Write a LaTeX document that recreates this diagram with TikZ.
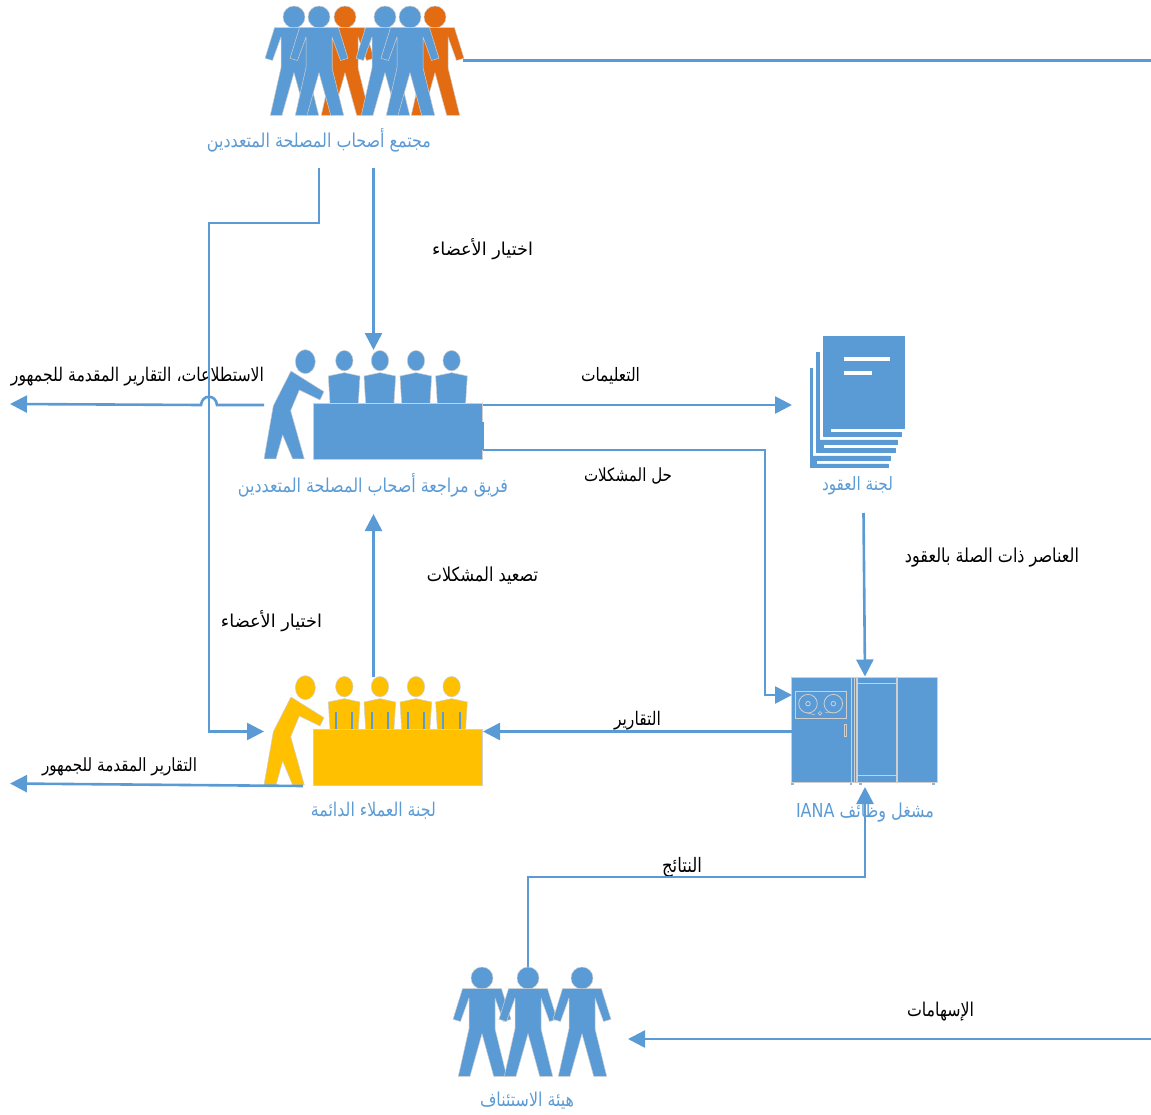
\documentclass[tikz,border=0pt]{standalone}
\usepackage{fontspec}
\usepackage{graphicx}
\usetikzlibrary{arrows.meta}
\TeXXeTstate=1
\newfontfamily\arabicfont[Script=Arabic]{DejaVu Sans}
\definecolor{iblue}{HTML}{5B9BD5}
\definecolor{iorange}{HTML}{E36C12}
\definecolor{iyellow}{HTML}{FFC000}
\definecolor{iedge}{HTML}{CFCFCF}
\newcommand{\ar}[3][1.2]{\scalebox{1}[#1]{\resizebox{#2pt}{!}{\arabicfont #3}}}
\tikzset{
  iconshape/.style={draw=iedge,line width=.5pt,line join=round},
  pageshape/.style={draw=iblue,line width=.4pt,fill=iblue,line join=round},
  iconline/.style={draw=iedge,line width=.8pt},
  iconbox/.style={inner sep=0pt,outer sep=0pt},
  lab/.style={inner sep=0pt,outer sep=0pt,text=iblue},
  note/.style={inner sep=0pt,outer sep=0pt,text=black},
  conn/.style={draw=iblue,line width=2.6pt},
  arrowed/.style={conn,-{Triangle[length=17pt,width=17pt]}}
}
\newcommand{\drawperson}[3]{%
  \begin{scope}[xshift=#1pt,yshift=-#2pt]
    \path[iconshape,fill=#3] (0,0) circle (11pt);
    \path[iconshape,fill=#3] (-19.5,10.7)--(-29,41.3)--(-21.5,43.5)--(-13,20)--(-13,50.7)--(-23.7,98.3)--(-12,98.3)--(0,55.7)--(11.7,98.3)--(24.7,98.3)--(13,50.7)--(13,20)--(21.5,43.5)--(29,41.3)--(19.5,10.7)--cycle;
  \end{scope}}
\newcommand{\drawpanel}[4]{% y shift, colour, seat edge colour, stripe flag
  \begin{scope}[xshift=190pt,yshift=-#1pt,x=.3333pt,y=-.3333pt]
    \path[iconshape,fill=#2] (346,65) ellipse [x radius=10pt,y radius=12pt];
    \path[iconshape,fill=#2] (222,357)--(258,357)--(278,285)--(308,357)--(343,357)--(302,212)--(328,150)--(390,180)--(402,155)--(303,93)--(250,197)--cycle;
    \foreach \sx in {463,570,678,785}{
      \path[iconshape,fill=#2] (\sx,62) ellipse [x radius=8.7pt,y radius=10.2pt];
      \path[iconshape,fill=#2] (\sx-48,108)--(\sx,98)--(\sx+47,108)--(\sx+42,190)--(\sx-43,190)--cycle;
      \ifnum#4=1
        \draw[draw=iblue,line width=2pt] (\sx-25,137)--(\sx-25,190) (\sx+24,137)--(\sx+24,190);
      \fi
    }
    \path[iconshape,fill=#2] (370,190) rectangle (878,357);
    \ifnum#4=0
      \fill[#2] (876,245) rectangle (882,330);
    \fi
  \end{scope}}
\begin{document}
\begin{tikzpicture}[x=1pt,y=-1pt]
\useasboundingbox (0,0) rectangle (1151,1115);
% --- icon boxes for connectors
\node[iconbox,minimum width=199pt,minimum height=109pt] (community) at (363.5,60.5) {};
\node[iconbox,minimum width=219pt,minimum height=110pt] (review) at (373.5,405) {};
\node[iconbox,minimum width=219pt,minimum height=109pt] (customers) at (373.5,731.5) {};
\node[iconbox,minimum width=113pt,minimum height=130pt] (contracts) at (848.5,405) {};
\node[iconbox,minimum width=146pt,minimum height=110pt] (iana) at (865,731.5) {};
\node[iconbox,minimum width=152pt,minimum height=110pt] (appeal) at (532,1022) {};
% --- community
\drawperson{345}{17}{iorange}
\drawperson{435}{17}{iorange}
\drawperson{294}{17}{iblue}
\drawperson{319}{17}{iblue}
\drawperson{385}{17}{iblue}
\drawperson{410}{17}{iblue}
% --- panels
\drawpanel{340}{iblue}{iedge}{0}
\drawpanel{666}{iyellow}{iedge}{1}
% --- contracts documents
\begin{scope}[xshift=770pt,yshift=-320pt,x=.3333pt,y=-.3333pt]
  \path[pageshape] (120,145)--(128,145)--(128,408)--(362,408)--(362,420)--(140,420)--(140,432)--(355,432)--(355,442)--(120,442)--cycle;
  \path[pageshape] (140,97)--(148,97)--(148,360)--(383,360)--(383,372)--(160,372)--(160,385)--(375,385)--(375,396)--(140,396)--cycle;
  \path[pageshape] (160,50)--(403,50)--(403,325)--(180,325)--(180,338)--(395,338)--(395,348)--(160,348)--cycle;
  \fill[white] (222,112) rectangle (360,123);
  \fill[white] (222,154) rectangle (307,165);
\end{scope}
% --- IANA operator machine
\begin{scope}[xshift=770pt,yshift=-660pt,x=.3333pt,y=-.3333pt]
  \path[iconshape,fill=iblue] (65,52) rectangle (502,366);
  \draw[iconline] (245,52)--(245,366) (252,52)--(252,366);
  \draw[draw=iedge,line width=1.2pt] (261,52)--(261,366) (381,52)--(381,366) (261,71)--(381,71) (261,346)--(381,346);
  \draw[iconline] (75,95) rectangle (230,175);
  \draw[iconline] (114,131) circle (9.3pt) (114,131) circle (2.3pt) (190,131) circle (9.3pt) (190,131) circle (2.3pt);
  \draw[iconline,line width=.6pt] (110,158)--(135,165) (150,160) circle (1.8pt) (165,158)--(190,158);
  \draw[iconline] (222,192) rectangle (230,230);
  \foreach \fx in {68,243,271,490}{\fill[iedge!50!iblue] (\fx-4,368) rectangle (\fx+4,376);}
\end{scope}
% --- appeal
\drawperson{482}{978}{iblue}
\drawperson{528}{978}{iblue}
\drawperson{582}{978}{iblue}
% --- labels
\node[lab] (communityLabel) at (319,140) {\ar{224}{\beginR مجتمع أصحاب المصلحة المتعددين\endR}};
\node[lab] (reviewLabel) at (373,485) {\ar{270}{\beginR فريق مراجعة أصحاب المصلحة المتعددين\endR}};
\node[lab] (contractsLabel) at (857.5,486) {\ar{71}{\beginR لجنة العقود\endR}};
\node[lab] (customersLabel) at (373.5,811) {\ar{125}{\beginR لجنة العملاء الدائمة\endR}};
\node[lab] (ianaLabel) at (865,813) {\ar{138}{\beginR مشغل وظائف \beginL IANA\endL\endR}};
\node[lab] (appealLabel) at (527,1101) {\ar{94}{\beginR هيئة الاستئناف\endR}};
\node[note] (noteSelectA) at (482.5,249) {\ar[1]{101}{\beginR اختيار الأعضاء\endR}};
\node[note] (notePolls) at (137.5,377) {\ar{253}{\beginR الاستطلاعات، التقارير المقدمة للجمهور\endR}};
\node[note] (noteInstr) at (610.5,376) {\ar{59}{\beginR التعليمات\endR}};
\node[note] (noteSolve) at (628,476) {\ar{88}{\beginR حل المشكلات\endR}};
\node[note] (noteElems) at (992,558) {\ar{174}{\beginR العناصر ذات الصلة بالعقود\endR}};
\node[note] (noteEsc) at (482.5,576) {\ar{111}{\beginR تصعيد المشكلات\endR}};
\node[note] (noteSelectB) at (271.5,621) {\ar[1]{101}{\beginR اختيار الأعضاء\endR}};
\node[note] (noteReports) at (637.5,721) {\ar{47}{\beginR التقارير\endR}};
\node[note] (notePublic) at (119.5,767) {\ar{155}{\beginR التقارير المقدمة للجمهور\endR}};
\node[note] (noteResults) at (682,867) {\ar{40}{\beginR النتائج\endR}};
\node[note] (noteContrib) at (940.5,1012) {\ar{67}{\beginR الإسهامات\endR}};
% --- connector ends
\coordinate (topEnd) at (1151,60.5);
\coordinate (memberOut) at (319,168);
\coordinate (memberTurn) at (209,223);
\coordinate (memberDown) at (209,731.5);
\coordinate (selectOut) at (373.5,168);
\coordinate (pollEnd) at (10,404);
\coordinate (jumpR) at (217,405);
\coordinate (jumpL) at (201,405);
\coordinate (solveOut) at (483,450);
\coordinate (solveTurn) at (765,695);
\coordinate (ianaWestUp) at (792,695);
\coordinate (contractsOut) at (863.5,513);
\coordinate (publicOut) at (303,786);
\coordinate (publicEnd) at (10,783.5);
\coordinate (resultsOut) at (528,967);
\coordinate (resultsIn) at (865,787);
\coordinate (contribIn) at (1151,1039);
\coordinate (contribEnd) at (628,1039);
% --- connectors
\draw[conn] (community.east) -- (topEnd);
\draw[arrowed] (memberOut) |- (memberTurn) -- (memberDown) -- (customers.west);
\draw[arrowed] (selectOut) -- (review.north);
\draw[arrowed] (review.west) -- (jumpR) .. controls (216,394) and (202,394) .. (jumpL) -- (pollEnd);
\draw[arrowed] (review.east) -- (contracts.west);
\draw[arrowed] (solveOut) -| (solveTurn) -- (ianaWestUp);
\draw[arrowed] (contractsOut) -- (iana.north);
\draw[arrowed] (iana.west) -- (customers.east);
\draw[arrowed] (customers.north) -- (373.5,514);
\draw[arrowed] (publicOut) -- (publicEnd);
\draw[arrowed] (resultsOut) -- (528,877) -| (resultsIn);
\draw[arrowed] (contribIn) -- (contribEnd);
\end{tikzpicture}
\end{document}
